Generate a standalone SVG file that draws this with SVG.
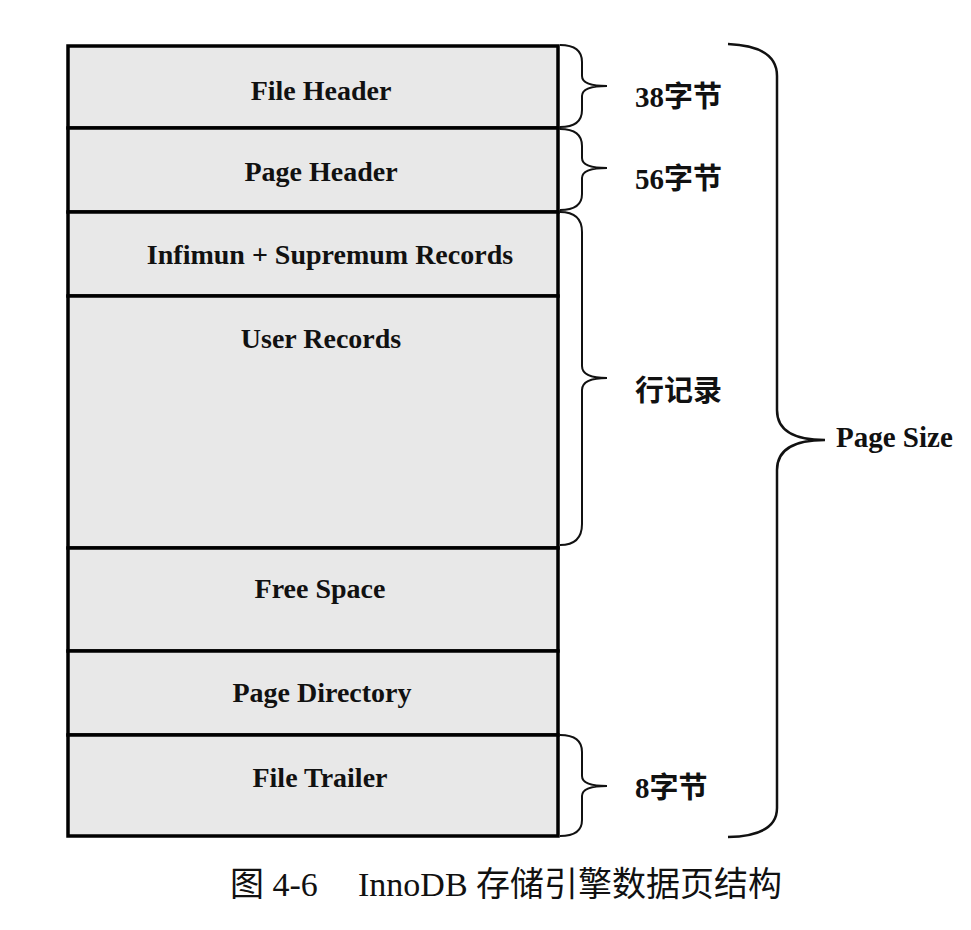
<svg xmlns="http://www.w3.org/2000/svg" width="971" height="930" viewBox="0 0 971 930">
<style>
.sec{fill:#e8e8e8;stroke:#000;stroke-width:3.5}
.lbl{font-family:"Liberation Serif","Noto Sans CJK SC",serif;font-weight:bold;font-size:28px;fill:#111;text-anchor:middle}
.side{font-family:"Liberation Serif","Noto Sans CJK SC",serif;font-weight:bold;font-size:29px;fill:#111}
.brace{fill:none;stroke:#111;stroke-width:2}
.big{fill:none;stroke:#111;stroke-width:2.5}
.cap{font-family:"Liberation Serif","Noto Sans CJK SC",serif;font-size:34px;fill:#111}
</style>
<g id="file-header"><rect class="sec" x="68" y="46" width="490" height="82"/><text class="lbl" x="321" y="100">File Header</text></g>
<g id="page-header"><rect class="sec" x="68" y="128" width="490" height="84"/><text class="lbl" x="321" y="181">Page Header</text></g>
<g id="infimum"><rect class="sec" x="68" y="212" width="490" height="84"/><text class="lbl" x="330" y="264">Infimun + Supremum Records</text></g>
<g id="user-records"><rect class="sec" x="68" y="296" width="490" height="252"/><text class="lbl" x="321" y="348">User Records</text></g>
<g id="free-space"><rect class="sec" x="68" y="548" width="490" height="103"/><text class="lbl" x="320" y="598">Free Space</text></g>
<g id="page-directory"><rect class="sec" x="68" y="651" width="490" height="84"/><text class="lbl" x="322" y="702">Page Directory</text></g>
<g id="file-trailer"><rect class="sec" x="68" y="735" width="490" height="101"/><text class="lbl" x="320" y="787">File Trailer</text></g>
<g id="connectors">
<path class="brace" d="M560,45 Q582,45 582,62 L582,76 Q582,86 607,86 Q582,86 582,96 L582,110 Q582,127 560,127"/>
<path class="brace" d="M560,129 Q582,129 582,146 L582,158 Q582,168 607,168 Q582,168 582,178 L582,194 Q582,210 560,210"/>
<path class="brace" d="M560,212 Q582,212 582,232 L582,366 Q582,378 607,378 Q582,378 582,390 L582,524 Q582,545 560,545"/>
<path class="brace" d="M560,735 Q582,735 582,752 L582,776 Q582,786 607,786 Q582,786 582,796 L582,820 Q582,836 560,836"/>
<path class="big" d="M728,44 Q777,46 777,76 L777,410 Q777,440 825,440 Q777,440 777,470 L777,808 Q777,836 728,837"/>
</g>
<g id="side-labels">
<text class="side" x="635" y="107">38字节</text>
<text class="side" x="635" y="189">56字节</text>
<text class="side" x="635" y="401">行记录</text>
<text class="side" x="635" y="798">8字节</text>
<text class="side" x="836" y="447">Page Size</text>
</g>
<g id="caption">
<text class="cap" x="230" y="896">图 4-6</text>
<text class="cap" x="358" y="896">InnoDB 存储引擎数据页结构</text>
</g>
</svg>
